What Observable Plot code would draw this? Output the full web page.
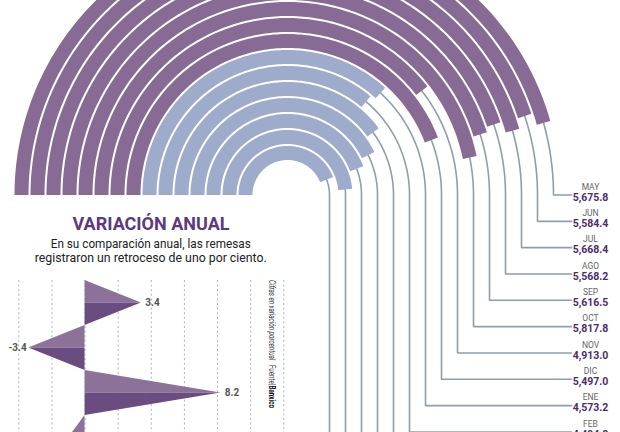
<!DOCTYPE html>
<html><head><meta charset="utf-8">
<script src="https://cdn.jsdelivr.net/npm/d3@7"></script>
<script src="https://cdn.jsdelivr.net/npm/@observablehq/plot@0.6"></script>
<style>
html,body{margin:0;padding:0;background:#fff;width:620px;height:432px;overflow:hidden;position:relative}
#arcs,#inset,#ttl,#sub,#note{position:absolute}
#arcs{left:0;top:0}
#ttl{left:0;top:214px;width:302px;text-align:center;font:700 18px/20px Roboto,sans-serif;color:#5b3a7e}
#sub{left:0;top:237px;width:302px;text-align:center;font:400 13px/14px Roboto,sans-serif;color:#222}
#sub span{display:inline-block;white-space:nowrap;transform-origin:50% 50%}
#inset{left:0;top:280px}
#note{left:267px;top:280px;writing-mode:vertical-rl;font:400 8.5px/10px Roboto,sans-serif;color:#333;white-space:nowrap;transform-origin:0 0}
#note b{font-weight:700;color:#111}
#note span{color:#5b3a7e;font-weight:700}
</style></head><body>
<div id="arcs"></div>
<div id="ttl">VARIACIÓN ANUAL</div>
<div id="sub"><span id="s1">En su comparación anual, las remesas</span><br><span id="s2">registraron un retroceso de uno por ciento.</span></div>
<div id="inset"></div>
<div id="note"><i>Cifras en variación porcentual</i>&nbsp;&nbsp; Fuente<span>|</span><b>Banxico</b></div>
<script>
// ---- data ----
const months  = ["MAY","JUN","JUL","AGO","SEP","OCT","NOV","DIC","ENE","FEB","MAR","ABR","MAY","JUN","JUL"];
const years   = [2018,2018,2018,2018,2018,2018,2018,2018,2019,2019,2019,2019,2019,2019,2019];
const remesas = [5675.8,5584.4,5668.4,5568.2,5616.5,5817.8,4913.0,5497.0,4573.2,4494.8,4970.0,5310.0,5500.0,6030.0,5480.0];
const variacion = [3.4,-3.4,8.2,-1.0];
const gridTicks = [-4,-2,0,2,4,6,8,10,12];

// ---- layout ----
const R_OUTER = 266, STEP = 16, BAND = 14, FULL = 6220;
const ROW_STEP = 26.33, LINE_END = 284, LABEL_X = 303, VIEW_BOTTOM = -250;
const PURPLE = "#876b95", BLUE = "#9eabca", LEAD = "#8f9fa9";
const rad = d => d*Math.PI/180;

const arcPts = [], leadPts = [], labels = [];
remesas.forEach((v,i)=>{
  const r = R_OUTER - i*STEP;
  const end = 180 - v/FULL*180;
  for (let a=180; a>end; a-=1) arcPts.push({k:i, yr:years[i], x:r*Math.cos(rad(a)), y:r*Math.sin(rad(a))});
  arcPts.push({k:i, yr:years[i], x:r*Math.cos(rad(end)), y:r*Math.sin(rad(end))});
  for (let a=end; a>0; a-=1) leadPts.push({k:i, x:r*Math.cos(rad(a)), y:r*Math.sin(rad(a))});
  const ly = -i*ROW_STEP;
  leadPts.push({k:i, x:r, y:0},{k:i, x:r, y:ly},{k:i, x:LINE_END, y:ly});
  if (ly > VIEW_BOTTOM) labels.push({m:months[i], v, y:ly});
});

const main = Plot.plot({
  width:620, height:432, margin:0,
  x:{domain:[-287,333], axis:null},
  y:{domain:[-237.5,194.5], axis:null},
  color:{type:"ordinal", domain:[2018,2019], range:[PURPLE,BLUE]},
  style:{fontFamily:"Roboto, sans-serif"},
  marks:[
    Plot.line(leadPts,{x:"x",y:"y",z:"k",stroke:LEAD,strokeWidth:1.6,strokeLinejoin:"miter"}),
    Plot.line(arcPts,{x:"x",y:"y",z:"k",stroke:"yr",strokeWidth:BAND,strokeLinecap:"butt",strokeLinejoin:"round"}),
    Plot.text(labels,{x:LABEL_X,y:d=>d.y+8.2,text:"m",fontSize:8.5,fill:"#666"}),
    Plot.text(labels,{x:LABEL_X,y:d=>d.y-2.3,text:d=>d3.format(",.1f")(d.v),fontSize:10.5,fontWeight:700,fill:"#4b2d6c"})
  ]
});
document.getElementById("arcs").append(main);

// ---- inset: variación anual ----
const ROWS_VISIBLE = 3;
const tri = [];
variacion.forEach((v,i)=>{
  tri.push({k:"t"+i, part:"a", y:i, x:0},{k:"t"+i, part:"a", y:i+0.5, x:v});
  tri.push({k:"b"+i, part:"b", y:i+0.5, x:v},{k:"b"+i, part:"b", y:i+1, x:0});
});
const vdata = variacion.map((v,i)=>({v,i})).filter(d=>d.i<ROWS_VISIBLE);
const fmt = d => d3.format(".1f")(d.v).replace("−","-");
const inset = Plot.plot({
  width:300, height:180, marginLeft:18.3, marginRight:16.7, marginTop:0, marginBottom:0,
  x:{domain:[-4,12], axis:null},
  y:{domain:[0,4], range:[0,180], axis:null},
  style:{fontFamily:"Roboto, sans-serif"},
  marks:[
    Plot.ruleX(gridTicks,{stroke:"#aab3c4",strokeWidth:1,strokeDasharray:"2,2.6"}),
    Plot.areaX(tri,{y:"y",x1:0,x2:"x",z:"k",fill:d=>d.part==="a"?"#8c7298":"#6b4c80"}),
    Plot.text(vdata.filter(d=>d.v>0),{x:"v",y:d=>d.i+0.5,text:fmt,textAnchor:"start",dx:4,fontSize:10,fontWeight:700,fill:"#555"}),
    Plot.text(vdata.filter(d=>d.v<0),{x:"v",y:d=>d.i+0.5,text:fmt,textAnchor:"end",dx:-2,fontSize:10,fontWeight:700,fill:"#555"})
  ]
});
document.getElementById("inset").append(inset);

// condense the typeset lines to the reference widths
function fitX(id, w){ const el=document.getElementById(id); const s=w/el.getBoundingClientRect().width; el.style.transform=`scaleX(${s})`; }
fitX("s1",200); fitX("s2",232);
const note=document.getElementById("note");
note.style.transform=`scaleY(${128/note.getBoundingClientRect().height})`;
</script>
</body></html>
